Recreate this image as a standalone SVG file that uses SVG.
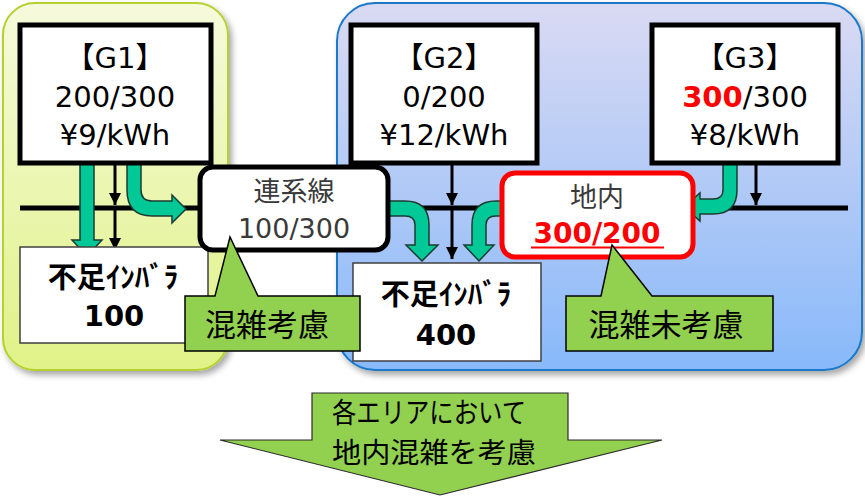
<svg xmlns="http://www.w3.org/2000/svg" width="865" height="496" viewBox="0 0 865 496">
<defs>
<linearGradient id="gY" x1="0" y1="0" x2="0" y2="1"><stop offset="0" stop-color="#f6fadc"/><stop offset="1" stop-color="#e0f287"/></linearGradient>
<linearGradient id="gB" x1="0" y1="0" x2="0" y2="1"><stop offset="0" stop-color="#dadaf3"/><stop offset="1" stop-color="#88b9fa"/></linearGradient>
<filter id="sh" x="-5%" y="-5%" width="115%" height="115%"><feDropShadow dx="3" dy="4" stdDeviation="3" flood-color="#000" flood-opacity="0.35"/></filter>
<marker id="ah" markerUnits="userSpaceOnUse" markerWidth="14" markerHeight="14" viewBox="0 0 14 14" refX="12" refY="7" orient="auto"><path d="M0,1 L12,7 L0,13 Z" fill="#000"/></marker>
<style>
.t{font-family:"DejaVu Sans","Noto Sans CJK JP",sans-serif;text-anchor:middle}
.g{font-size:29px;fill:#000}
.gray{fill:#3a3a3a;font-size:27px}
.b{font-weight:700;font-size:29px;fill:#000}
.box{fill:#fff;stroke:#000;stroke-width:5}
.load{fill:#fff;stroke:#404040;stroke-width:1.5}
.gr{fill:#00c896;stroke:#1d3b30;stroke-width:1.5}
.bk{stroke:#000;stroke-width:3;fill:none;marker-end:url(#ah)}
.co{fill:#92d050;stroke:#000;stroke-width:1.5}
.j{font-family:"Noto Sans CJK JP",sans-serif;text-anchor:middle;fill:#000}
</style>
</defs>
<g id="area-left"><rect x="3" y="3" width="225" height="367" rx="32" fill="url(#gY)" stroke="#b5d12f" stroke-width="2" filter="url(#sh)"/></g>
<g id="area-right"><rect x="337" y="3" width="525" height="367" rx="38" fill="url(#gB)" stroke="#1a78c8" stroke-width="2" filter="url(#sh)"/></g>
<g id="connectors">
<line x1="20" y1="208" x2="848" y2="208" stroke="#000" stroke-width="5"/>
<path class="gr" d="M80,163 L94,163 L94,240 L102,240 L87,256 L72,240 L80,240 Z"/>
<path class="gr" d="M127,163 L141,163 L141,190 Q141,201 152,201 L172,201 L172,195 L186,209 L172,223 L172,216 L152,216 Q127,216 127,190 Z"/>
<path class="gr" d="M377,201 L405,201 Q429,201 429,225 L429,245 L438,245 L422,261 L406,245 L415,245 L415,225 Q415,216 405,216 L377,216 Z"/>
<path class="gr" d="M520,201 L496,201 Q472,201 472,225 L472,245 L464,245 L479,261 L494,245 L486,245 L486,225 Q486,216 496,216 L520,216 Z"/>
<path class="gr" d="M737,163 L737,190 Q737,214 713,214 L700,214 L700,221 L684,207 L700,193 L700,199 L713,199 Q723,199 723,190 L723,163 Z"/>
<line class="bk" x1="115" y1="163" x2="115" y2="205"/>
<line class="bk" x1="115" y1="210" x2="115" y2="250"/>
<line class="bk" x1="452" y1="163" x2="452" y2="205"/>
<line class="bk" x1="452" y1="210" x2="452" y2="259"/>
<line class="bk" x1="756" y1="163" x2="756" y2="205"/>
</g>
<g id="G1"><rect class="box" x="20" y="25" width="191" height="138" stroke-width="4.5"/>
<text class="t g" x="115" y="68">【G1】</text><text class="t g" x="115" y="107">200/300</text><text class="t g" x="115" y="145">¥9/kWh</text></g>
<g id="G2"><rect class="box" x="351" y="25" width="186" height="138" stroke-width="4.5"/>
<text class="t g" x="444" y="68">【G2】</text><text class="t g" x="444" y="107">0/200</text><text class="t g" x="444" y="145">¥12/kWh</text></g>
<g id="G3"><rect class="box" x="652" y="25" width="186" height="138" stroke-width="4.5"/>
<text class="t g" x="745" y="68">【G3】</text><text class="t g" x="745" y="107"><tspan fill="#ff0000" font-weight="700">300</tspan>/300</text><text class="t g" x="745" y="145">¥8/kWh</text></g>
<g id="load1"><rect class="load" x="20" y="247" width="188" height="96"/>
<text class="t b" x="113" y="288">不足ｲﾝﾊﾞﾗ</text><text class="t b" x="114" y="326">100</text></g>
<g id="load2"><rect class="load" x="353" y="263" width="188" height="98"/>
<text class="t b" x="446" y="305">不足ｲﾝﾊﾞﾗ</text><text class="t b" x="446" y="345">400</text></g>
<g id="interconnector"><rect class="box" x="200" y="167" width="188" height="83" rx="13"/>
<text class="t gray" x="294" y="201">連系線</text><text class="t gray" x="294" y="238">100/300</text></g>
<g id="local"><rect x="502" y="173" width="191" height="84" rx="13" fill="#fff" stroke="#ff0000" stroke-width="5"/>
<text class="t gray" x="597" y="207">地内</text><text class="t" x="597" y="243" font-size="28" font-weight="700" fill="#ff0000">300/200</text>
<line x1="531" y1="247.5" x2="664" y2="247.5" stroke="#ff0000" stroke-width="2"/></g>
<g id="callout1"><path class="co" d="M185,296 L215,296 L230,237 L258,296 L360,296 L360,351 L185,351 Z"/>
<text class="j" x="267" y="336" font-size="31">混雑考慮</text></g>
<g id="callout2"><path class="co" d="M566,296 L601,296 L612,245 L652,296 L773,296 L773,351 L566,351 Z"/>
<text class="j" x="666" y="336" font-size="31">混雑未考慮</text></g>
<g id="bottom-arrow"><path d="M312,393 L568,393 L568,440 L662,440 L440,495 L220,440 L312,440 Z" fill="#92d050" stroke="#2a2a2a" stroke-width="1.2"/>
<text class="j" x="429" y="423" font-size="28" textLength="194" lengthAdjust="spacingAndGlyphs">各エリアにおいて</text>
<text class="j" x="434" y="463" font-size="28" textLength="204" lengthAdjust="spacingAndGlyphs">地内混雑を考慮</text></g>
</svg>
